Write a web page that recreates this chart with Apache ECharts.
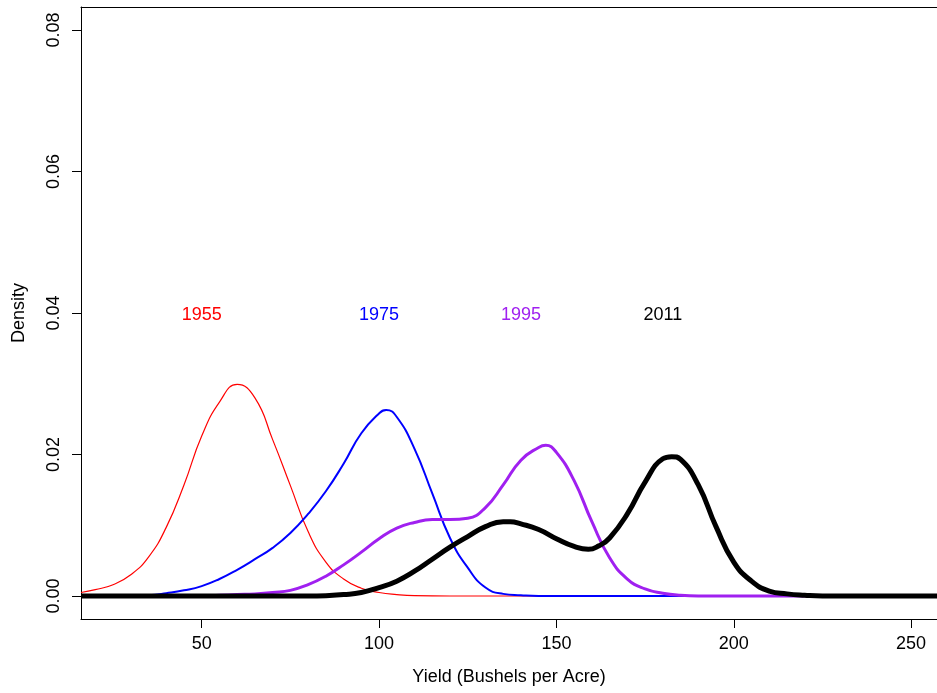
<!DOCTYPE html>
<html>
<head>
<meta charset="utf-8">
<title>Yield density</title>
<script src="https://cdn.jsdelivr.net/npm/echarts@6/dist/echarts.min.js"></script>
<style>
  html, body { margin: 0; padding: 0; background: #fff; }
  #chart { width: 937px; height: 693px; }
</style>
</head>
<body>
<div id="chart"></div>
<script>
// density curves, [yield, density]
var red1955 = [[15.97, 0.0005], [20, 0.0009], [25, 0.0016], [30, 0.0030], [35, 0.0055], [40, 0.0097],
    [45, 0.0157], [50, 0.0226], [55, 0.0274], [60, 0.0299], [65, 0.0280], [70, 0.0221], [75, 0.0156],
    [80, 0.0091], [85, 0.0048], [90, 0.0024], [95, 0.0011], [100, 0.0005], [105, 0.0002], [110, 0.00005],
    [120, 0], [140, 0], [180, 0], [257.3, 0]];

var blue1975 = [[15.97, 0], [25, 0], [30, 0], [35, 0.0001], [40, 0.0004], [45, 0.0008], [50, 0.0014],
    [55, 0.0024], [60, 0.0037], [65, 0.0052], [70, 0.0068], [75, 0.0089], [80, 0.0116], [85, 0.0148],
    [90, 0.0187], [95, 0.0230], [100, 0.0258], [102, 0.0263], [105, 0.0253], [110, 0.0208], [115, 0.0145],
    [120, 0.0082], [125, 0.0040], [130, 0.0012], [135, 0.0003], [140, 0.0001], [145, 0], [160, 0],
    [200, 0], [257.3, 0]];

var purple1995 = [[15.97, 0], [40, 0], [50, 0], [55, 0.0001], [60, 0.0002], [65, 0.0003], [70, 0.0005],
    [75, 0.0008], [80, 0.0016], [85, 0.0028], [90, 0.0044], [95, 0.0062], [100, 0.0081], [105, 0.0096],
    [110, 0.0104], [115, 0.0108], [120, 0.0108], [125, 0.0110], [130, 0.0125], [135, 0.0157],
    [140, 0.0192], [145, 0.0210], [147, 0.0213], [150, 0.0203], [155, 0.0163], [160, 0.0105],
    [165, 0.0054], [170, 0.0024], [175, 0.0010], [180, 0.0004], [185, 0.0001], [190, 0], [200, 0],
    [230, 0], [257.3, 0]];

var black2011 = [[15.97, 0], [60, 0], [75, 0], [80, 0], [85, 0.00005], [90, 0.0002], [95, 0.0005],
    [100, 0.0012], [105, 0.0021], [110, 0.0035], [115, 0.0052], [120, 0.0069], [125, 0.0084],
    [130, 0.0098], [135, 0.0105], [137, 0.0105], [140, 0.0102], [145, 0.0094], [150, 0.0081],
    [155, 0.0070], [159, 0.0066], [162, 0.0071], [165, 0.0082], [170, 0.0116], [175, 0.0161],
    [180, 0.0194], [182.5, 0.0197], [185, 0.0193], [190, 0.0157], [195, 0.0098], [200, 0.0048],
    [205, 0.0021], [210, 0.0007], [215, 0.0003], [220, 0.0001], [225, 0], [235, 0], [257.3, 0]];

// year labels and where they sit
var years = ['1955', '1975', '1995', '2011'];
var yearX = [50, 100, 140, 180];
var yearY = [0.04, 0.04, 0.04, 0.04];

var xTicks = [50, 100, 150, 200, 250];
var yTicks = [0, 0.02, 0.04, 0.06, 0.08];

var colors = ['#ff0000', '#0000ff', '#a020f0', '#000000'];
var widths = [1.2, 2, 3, 5];
var font = 'Liberation Sans';

var chart = echarts.init(document.getElementById('chart'));

var curves = [red1955, blue1975, purple1995, black2011];
var series = curves.map(function (d, i) {
    return {
        name: years[i],
        type: 'line',
        data: d,
        showSymbol: false,
        smooth: 0.5,
        lineStyle: { color: colors[i], width: widths[i] },
        silent: true,
        z: 2 + i
    };
});

var labelData = years.map(function (y, i) { return [yearX[i], yearY[i]]; });
series.push({
    type: 'custom',
    data: labelData,
    z: 10,
    renderItem: function (params, api) {
        var p = api.coord([api.value(0), api.value(1)]);
        return {
            type: 'text',
            x: p[0],
            y: p[1] + 2,
            style: {
                text: years[params.dataIndex],
                fill: colors[params.dataIndex],
                font: '18px ' + font,
                align: 'center',
                verticalAlign: 'middle'
            }
        };
    }
});

var option = {
    animation: false,
    grid: { left: 81, top: 7, right: 0, height: 612 },
    xAxis: [{
        type: 'value',
        min: 15.97,
        max: 257.3,
        name: 'Yield (Bushels per Acre)',
        nameLocation: 'middle',
        nameGap: 49,
        nameTextStyle: { fontSize: 18, fontFamily: font, color: '#000' },
        axisLine: { show: true, onZero: false, lineStyle: { color: '#000', width: 1 } },
        axisTick: { show: true, length: 9, customValues: xTicks, lineStyle: { color: '#000' } },
        axisLabel: { customValues: xTicks, fontSize: 18, fontFamily: font, color: '#000', margin: 16 },
        splitLine: { show: false }
    }, {
        type: 'value',
        position: 'top',
        min: 15.97,
        max: 257.3,
        axisLine: { show: true, onZero: false, lineStyle: { color: '#000', width: 1 } },
        axisTick: { show: false },
        axisLabel: { show: false },
        splitLine: { show: false }
    }],
    yAxis: {
        type: 'value',
        min: -0.00325,
        max: 0.08325,
        name: 'Density',
        nameLocation: 'middle',
        nameGap: 53,
        nameTextStyle: { fontSize: 18, fontFamily: font, color: '#000' },
        axisLine: { show: true, onZero: false, lineStyle: { color: '#000', width: 1 } },
        axisTick: { show: true, length: 9, customValues: yTicks, lineStyle: { color: '#000' } },
        axisLabel: {
            customValues: yTicks,
            rotate: 90,
            fontSize: 18,
            fontFamily: font,
            color: '#000',
            margin: 18,
            formatter: function (v) { return v.toFixed(2); }
        },
        splitLine: { show: false }
    },
    series: series
};

chart.setOption(option);
</script>
</body>
</html>
